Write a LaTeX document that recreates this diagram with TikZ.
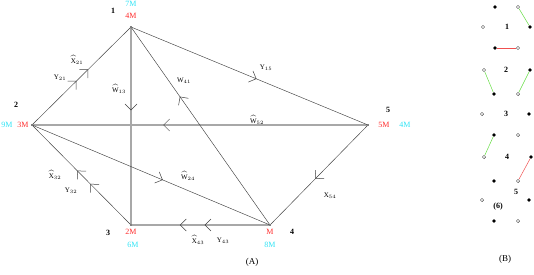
\documentclass[tikz,border=0pt]{standalone}
\usepackage{fontspec}
\setmainfont{Liberation Serif}
\usetikzlibrary{arrows.meta,decorations.markings}
\definecolor{lblred}{HTML}{FF2A2A}
\definecolor{lblcyan}{HTML}{2EE3F5}
\definecolor{linkgreen}{HTML}{66DD44}
\definecolor{linkred}{HTML}{F05050}
\definecolor{edgegray}{HTML}{A8A8A8}

\tikzset{
  vert/.style={circle,fill=black,inner sep=0pt,minimum size=1.8pt},
  thin edge/.style={draw=black!75,line width=0.45pt},
  heavy edge/.style={draw=edgegray,line width=1.1pt},
  midarr/.style={postaction={decorate,decoration={markings,
      mark=at position #1 with {\arrow[black!75]{Straight Barb[length=6pt,width=12pt,line width=0.5pt]}}}}},
  elbl/.style={font=\scriptsize,inner sep=0.5pt},
  vnum/.style={font=\footnotesize\bfseries},
  wred/.style={font=\footnotesize,text=lblred},
  wcyan/.style={font=\footnotesize,text=lblcyan},
  full/.style={circle,fill=black,inner sep=0pt,minimum size=3.6pt},
  hollow/.style={circle,draw=black!70,fill=white,line width=0.4pt,inner sep=0pt,minimum size=3.4pt},
}

\begin{document}
\begin{tikzpicture}[x=1pt,y=-1pt]
\useasboundingbox (0,0) rectangle (534,274);

% (A) the five places
\node[vert] (n1) at (131,27) {};
\node[vert] (n2) at (32,125) {};
\node[vert] (n3) at (131,225) {};
\node[vert] (n4) at (270,225) {};
\node[vert] (n5) at (368,125) {};

\path[heavy edge,midarr=0.61] (n5) -- (n2);
\path[heavy edge,midarr=0.65,midarr=0.47] (n4) -- (n3);
\path[heavy edge,midarr=0.42] (n1) -- (n3);
\path[thin edge,midarr=0.45,midarr=0.57] (n2) -- (n1);
\path[thin edge,midarr=0.65] (n4) -- (n1);
\path[thin edge,midarr=0.53] (n1) -- (n5);
\path[thin edge,midarr=0.55] (n2) -- (n4);
\path[thin edge,midarr=0.41,midarr=0.545] (n3) -- (n2);
\path[thin edge,midarr=0.54] (n5) -- (n4);

\node[elbl] (l21y) at (60,78) {Y$_{21}$};
\node[elbl] (l21x) at (77,60) {$\widehat{\mathrm{X}}_{21}$};
\node[elbl] (l13) at (119,89) {$\widehat{\mathrm{W}}_{13}$};
\node[elbl] (l41) at (184,81) {W$_{41}$};
\node[elbl] (l15) at (266,68) {Y$_{15}$};
\node[elbl] (l52) at (257,120) {$\widehat{\mathrm{W}}_{52}$};
\node[elbl] (l24) at (188,176) {$\widehat{\mathrm{W}}_{24}$};
\node[elbl] (l32x) at (55,175) {$\widehat{\mathrm{X}}_{32}$};
\node[elbl] (l32y) at (71,191) {Y$_{32}$};
\node[elbl] (l43x) at (198,240) {$\widehat{\mathrm{X}}_{43}$};
\node[elbl] (l43y) at (223,241) {Y$_{43}$};
\node[elbl] (l54) at (330,196) {X$_{54}$};

\node[vnum] at (113,11) {1};
\node[wcyan] at (131,4) {7M};
\node[wred] at (131,16) {4M};
\node[vnum] at (16,105) {2};
\node[wcyan] at (7,125) {9M};
\node[wred] at (23,125) {3M};
\node[vnum] at (108,233) {3};
\node[wred] at (131,232) {2M};
\node[wcyan] at (133,245) {6M};
\node[vnum] at (292,232) {4};
\node[wred] at (270,232) {M};
\node[wcyan] at (270,245) {8M};
\node[vnum] at (388,110) {5};
\node[wred] at (384,125) {5M};
\node[wcyan] at (405,125) {4M};

\node[font=\small] (capA) at (252,262) {(A)};

% (B) pairs
\foreach \x/\y [count=\i] in {495/7,530/27,495/48,530/70,494/94,529/114,494/135,531/157,494/181,529/200,494/221}
  \node[full] (f\i) at (\x,\y) {};
\foreach \x/\y [count=\i] in {518/7,483/27,518/48,484/70,518/94,482/114,518/135,484/157,518/181,482/200,518/221}
  \node[hollow] (o\i) at (\x,\y) {};

\draw[linkgreen,line width=0.5pt] (o1) -- (f2);
\draw[linkred,line width=0.5pt] (f3) -- (o3);
\draw[linkgreen,line width=0.5pt] (o4) -- (f5);
\draw[linkgreen,line width=0.5pt] (f4) -- (o5);
\draw[linkgreen,line width=0.5pt] (f7) -- (o8);
\draw[linkred,line width=0.5pt] (f8) -- (o9);

\node[vnum] at (507,27) {1};
\node[vnum] at (506,70) {2};
\node[vnum] at (506,114) {3};
\node[vnum] at (507,157) {4};
\node[vnum] at (516,192) {5};
\node[vnum] at (498,207) {(6)};

\node[font=\small] (capB) at (505,259) {(B)};
\end{tikzpicture}
\end{document}
